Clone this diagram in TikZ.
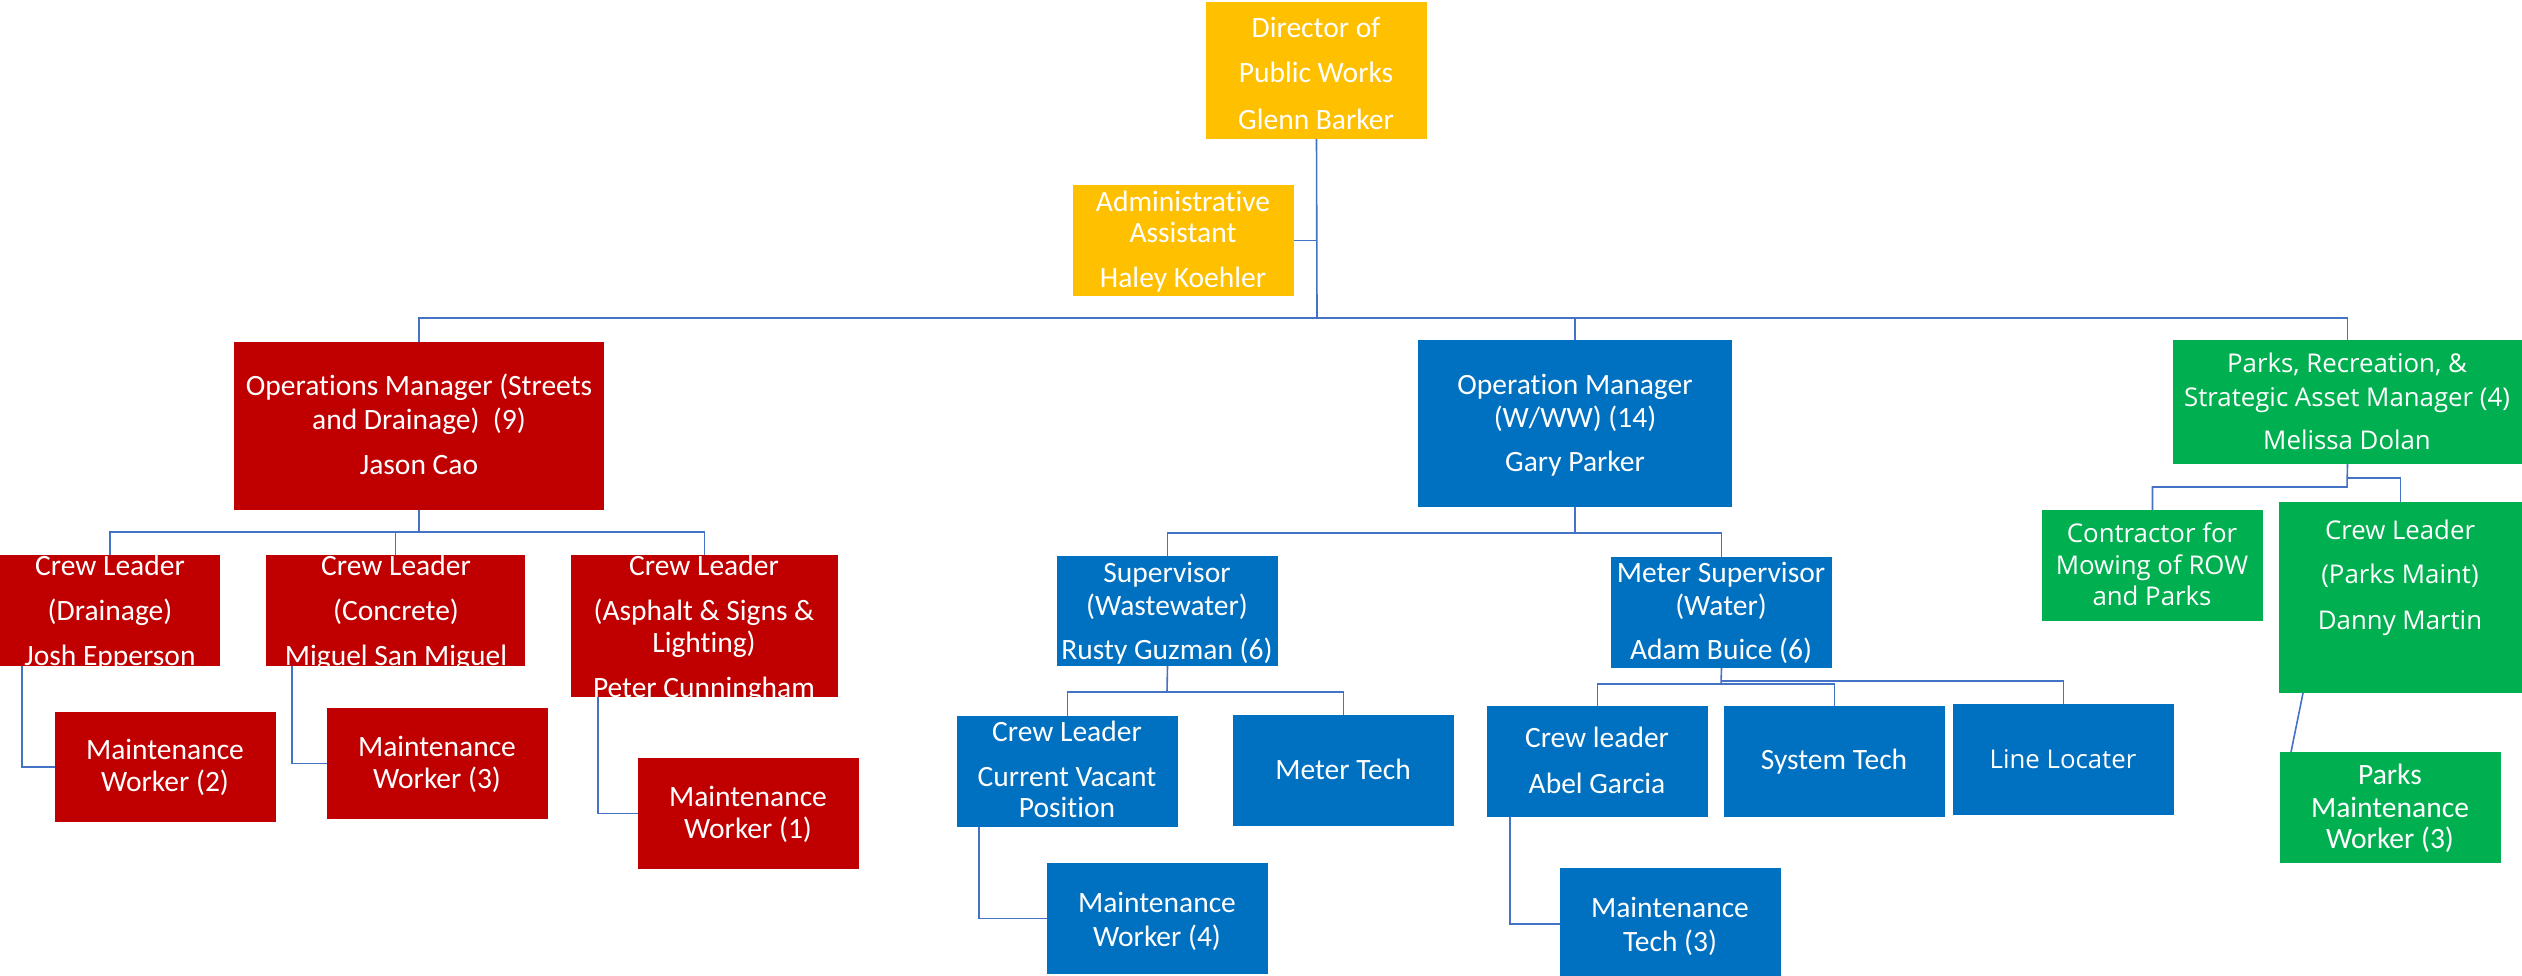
\documentclass[tikz,border=0pt]{standalone}
\usepackage{fontspec}
\setmainfont{Carlito}[Ligatures={NoCommon}]
\newfontfamily\segoe{Open Sans}[Ligatures={NoCommon}]
\usetikzlibrary{calc}
\definecolor{cyel}{HTML}{FFC000}
\definecolor{cred}{HTML}{C00000}
\definecolor{cblue}{HTML}{0070C0}
\definecolor{cgreen}{HTML}{00B050}
\definecolor{cline}{HTML}{4472C4}
\begin{document}
\begin{tikzpicture}[x=1pt,y=-1pt,
 box/.style={rectangle,inner sep=0pt,outer sep=0pt,anchor=north west,draw=none},
 yel/.style={box,fill=cyel},
 red/.style={box,fill=cred},
 blu/.style={box,fill=cblue},
 grn/.style={box,fill=cgreen},
 conn/.style={draw=cline,line width=1.6pt},
 txt/.style={text=white,inner sep=0pt,anchor=base,yshift=-9.5pt,font=\fontsize{29.5}{35}\selectfont},
 stxt/.style={text=white,inner sep=0pt,anchor=base,yshift=-9.2pt,font=\segoe\fontsize{25.8}{31}\selectfont}]
\useasboundingbox (0,0) rectangle (2522,976);
% boxes
\node[yel,minimum width=221pt,minimum height=137pt] (dir) at (1206,2) {};
\node[yel,minimum width=221pt,minimum height=111pt] (adm) at (1073,185) {};
\node[red,minimum width=370pt,minimum height=168pt] (ops1) at (234,342) {};
\node[red,minimum width=220pt,minimum height=111pt] (cl1) at (0,555) {};
\node[red,minimum width=259pt,minimum height=111pt] (cl2) at (266,555) {};
\node[red,minimum width=267pt,minimum height=142pt] (cl3) at (571,555) {};
\node[red,minimum width=221pt,minimum height=110pt] (mw2) at (55,712) {};
\node[red,minimum width=221pt,minimum height=111pt] (mw3) at (327,708) {};
\node[red,minimum width=221pt,minimum height=111pt] (mw1) at (638,758) {};
\node[blu,minimum width=314pt,minimum height=167pt] (ops2) at (1418,340) {};
\node[blu,minimum width=221pt,minimum height=110pt] (sup1) at (1057,556) {};
\node[blu,minimum width=221pt,minimum height=111pt] (sup2) at (1611,557) {};
\node[blu,minimum width=221pt,minimum height=111pt] (cl4) at (957,716) {};
\node[blu,minimum width=221pt,minimum height=111pt] (mtech) at (1233,715) {};
\node[blu,minimum width=221pt,minimum height=111pt] (mw4) at (1047,863) {};
\node[blu,minimum width=221pt,minimum height=111pt] (cl5) at (1487,706) {};
\node[blu,minimum width=221pt,minimum height=111pt] (stech) at (1724,706) {};
\node[blu,minimum width=221pt,minimum height=111pt] (lloc) at (1953,704) {};
\node[blu,minimum width=221pt,minimum height=112pt] (mt3) at (1560,868) {};
\node[grn,minimum width=349pt,minimum height=124pt] (ops3) at (2173,340) {};
\node[grn,minimum width=221pt,minimum height=111pt] (contr) at (2042,510) {};
\node[grn,minimum width=243pt,minimum height=191pt] (cl6) at (2279,502) {};
\node[grn,minimum width=221pt,minimum height=111pt] (pmw) at (2280,752) {};
% connectors
\coordinate (h0) at (1317,318);
\draw[conn] (dir.south) -- (h0);
\draw[conn] (adm.east) -- (adm.east -| h0);
\draw[conn] (ops1.north) -- (ops1.north |- h0) -- (ops3.north |- h0) -- (ops3.north);
\draw[conn] (ops2.north) -- (ops2.north |- h0);
\coordinate (h1) at (419,532);
\draw[conn] (ops1.south) -- (h1);
\draw[conn] (cl1.north) -- (cl1.north |- h1) -- (cl3.north |- h1) -- (cl3.north);
\draw[conn] (cl2.north) -- (cl2.north |- h1);
\draw[conn] ($(cl1.south west)+(22,0)$) |- (mw2.west);
\draw[conn] ($(cl2.south west)+(26,0)$) |- (mw3.west);
\draw[conn] ($(cl3.south west)+(27,0)$) |- (mw1.west);
\coordinate (h2) at (1575,533);
\draw[conn] (ops2.south) -- (h2);
\draw[conn] (sup1.north) -- (sup1.north |- h2) -- (sup2.north |- h2) -- (sup2.north);
\coordinate (h3) at (1167,692);
\draw[conn] (sup1.south) -- (h3);
\draw[conn] (cl4.north) -- (cl4.north |- h3) -- (mtech.north |- h3) -- (mtech.north);
\draw[conn] ($(cl4.south west)+(22,0)$) |- (mw4.west);
\coordinate (h4) at (1721,684);
\coordinate (h4b) at (1721,681);
\draw[conn] (sup2.south) -- (h4);
\draw[conn] (cl5.north) -- (cl5.north |- h4) -- (stech.north |- h4) -- (stech.north);
\draw[conn] (h4b) -| (lloc.north);
\draw[conn] ($(cl5.south west)+(23,0)$) |- (mt3.west);
\coordinate (h5) at (2347,487);
\coordinate (h6) at (2347,478);
\draw[conn] (ops3.south) -- (h5) -| (contr.north);
\draw[conn] (h6) -| (cl6.north);
\draw[conn] ($(cl6.south west)+(24,0)$) -- ($(pmw.north west)+(11,0)$);
% texts
\node[txt] (t01) at (1316,28) {Director of};
\node[txt] (t02) at (1316,73) {Public Works};
\node[txt] (t03) at (1316,120) {Glenn Barker};
\node[txt] (t04) at (1183,202) {Administrative};
\node[txt] (t05) at (1183,233) {Assistant};
\node[txt] (t06) at (1183,278) {Haley Koehler};
\node[txt] (t07) at (419,386) {Operations Manager (Streets};
\node[txt] (t08) at (419,420) {and Drainage)\ \ (9)};
\node[txt] (t09) at (419,465) {Jason Cao};
\node[txt] (t10) at (110,566) {Crew Leader};
\node[txt] (t11) at (110,611) {(Drainage)};
\node[txt] (t12) at (110,656) {Josh Epperson};
\node[txt] (t13) at (396,566) {Crew Leader};
\node[txt] (t14) at (396,611) {(Concrete)};
\node[txt] (t15) at (396,656) {Miguel San Miguel};
\node[txt] (t16) at (704,566) {Crew Leader};
\node[txt] (t17) at (704,611) {(Asphalt \& Signs \&};
\node[txt] (t18) at (704,643) {Lighting)};
\node[txt] (t19) at (704,688) {Peter Cunningham};
\node[txt] (t20) at (165,750) {Maintenance};
\node[txt] (t21) at (165,782) {Worker (2)};
\node[txt] (t22) at (437,747) {Maintenance};
\node[txt] (t23) at (437,779) {Worker (3)};
\node[txt] (t24) at (748,797) {Maintenance};
\node[txt] (t25) at (748,829) {Worker (1)};
\node[txt] (t26) at (1575,385) {Operation Manager};
\node[txt] (t27) at (1575,418) {(W/WW) (14)};
\node[txt] (t28) at (1575,462) {Gary Parker};
\node[txt] (t29) at (1167,573) {Supervisor};
\node[txt] (t30) at (1167,606) {(Wastewater)};
\node[txt] (t31) at (1167,650) {Rusty Guzman (6)};
\node[txt] (t32) at (1721,573) {Meter Supervisor};
\node[txt] (t33) at (1721,606) {(Water)};
\node[txt] (t34) at (1721,650) {Adam Buice (6)};
\node[txt] (t35) at (1067,732) {Crew Leader};
\node[txt] (t36) at (1067,777) {Current Vacant};
\node[txt] (t37) at (1067,808) {Position};
\node[txt] (t38) at (1343,770) {Meter Tech};
\node[txt] (t39) at (1157,903) {Maintenance};
\node[txt] (t40) at (1157,937) {Worker (4)};
\node[txt] (t41) at (1597,738) {Crew leader};
\node[txt] (t42) at (1597,784) {Abel Garcia};
\node[txt] (t43) at (1834,760) {System Tech};
\node[stxt] (t44) at (2063,759) {Line Locater};
\node[txt] (t45) at (1670,908) {Maintenance};
\node[txt] (t46) at (1670,942) {Tech (3)};
\node[stxt] (t47) at (2347,363) {Parks, Recreation, \&};
\node[stxt] (t48) at (2347,397) {Strategic Asset Manager (4)};
\node[stxt] (t49) at (2347,440) {Melissa Dolan};
\node[stxt] (t50) at (2152,533) {Contractor for};
\node[stxt] (t51) at (2152,565) {Mowing of ROW};
\node[stxt] (t52) at (2152,596) {and Parks};
\node[stxt] (t53) at (2400,530) {Crew Leader};
\node[stxt] (t54) at (2400,574) {(Parks Maint)};
\node[stxt] (t55) at (2400,620) {Danny Martin};
\node[txt] (t56) at (2390,775) {Parks};
\node[txt] (t57) at (2390,808) {Maintenance};
\node[txt] (t58) at (2390,839) {Worker (3)};
\end{tikzpicture}
\end{document}
